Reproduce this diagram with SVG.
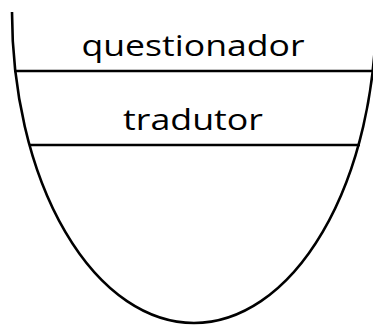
<svg xmlns="http://www.w3.org/2000/svg" width="373" height="325" viewBox="0 0 373 325">
<style>
.s{fill:none;stroke:#000;stroke-width:2.6}
.t{font-family:"Open Sans","Liberation Sans",sans-serif;font-size:30px;fill:#000;text-anchor:middle}
</style>
<rect width="373" height="325" fill="#fff"/>
<g id="vessel">
<path class="s" d="M12,12 A182,311 0 0 0 376,12"/>
</g>
<g id="connectors">
<line class="s" x1="14" y1="71" x2="373" y2="71"/>
<line class="s" x1="29" y1="145" x2="360" y2="145"/>
</g>
<g id="questionador">
<text class="t" x="193" y="56" textLength="223" lengthAdjust="spacingAndGlyphs">questionador</text>
</g>
<g id="tradutor">
<text class="t" x="193" y="130" textLength="140" lengthAdjust="spacingAndGlyphs">tradutor</text>
</g>
</svg>
